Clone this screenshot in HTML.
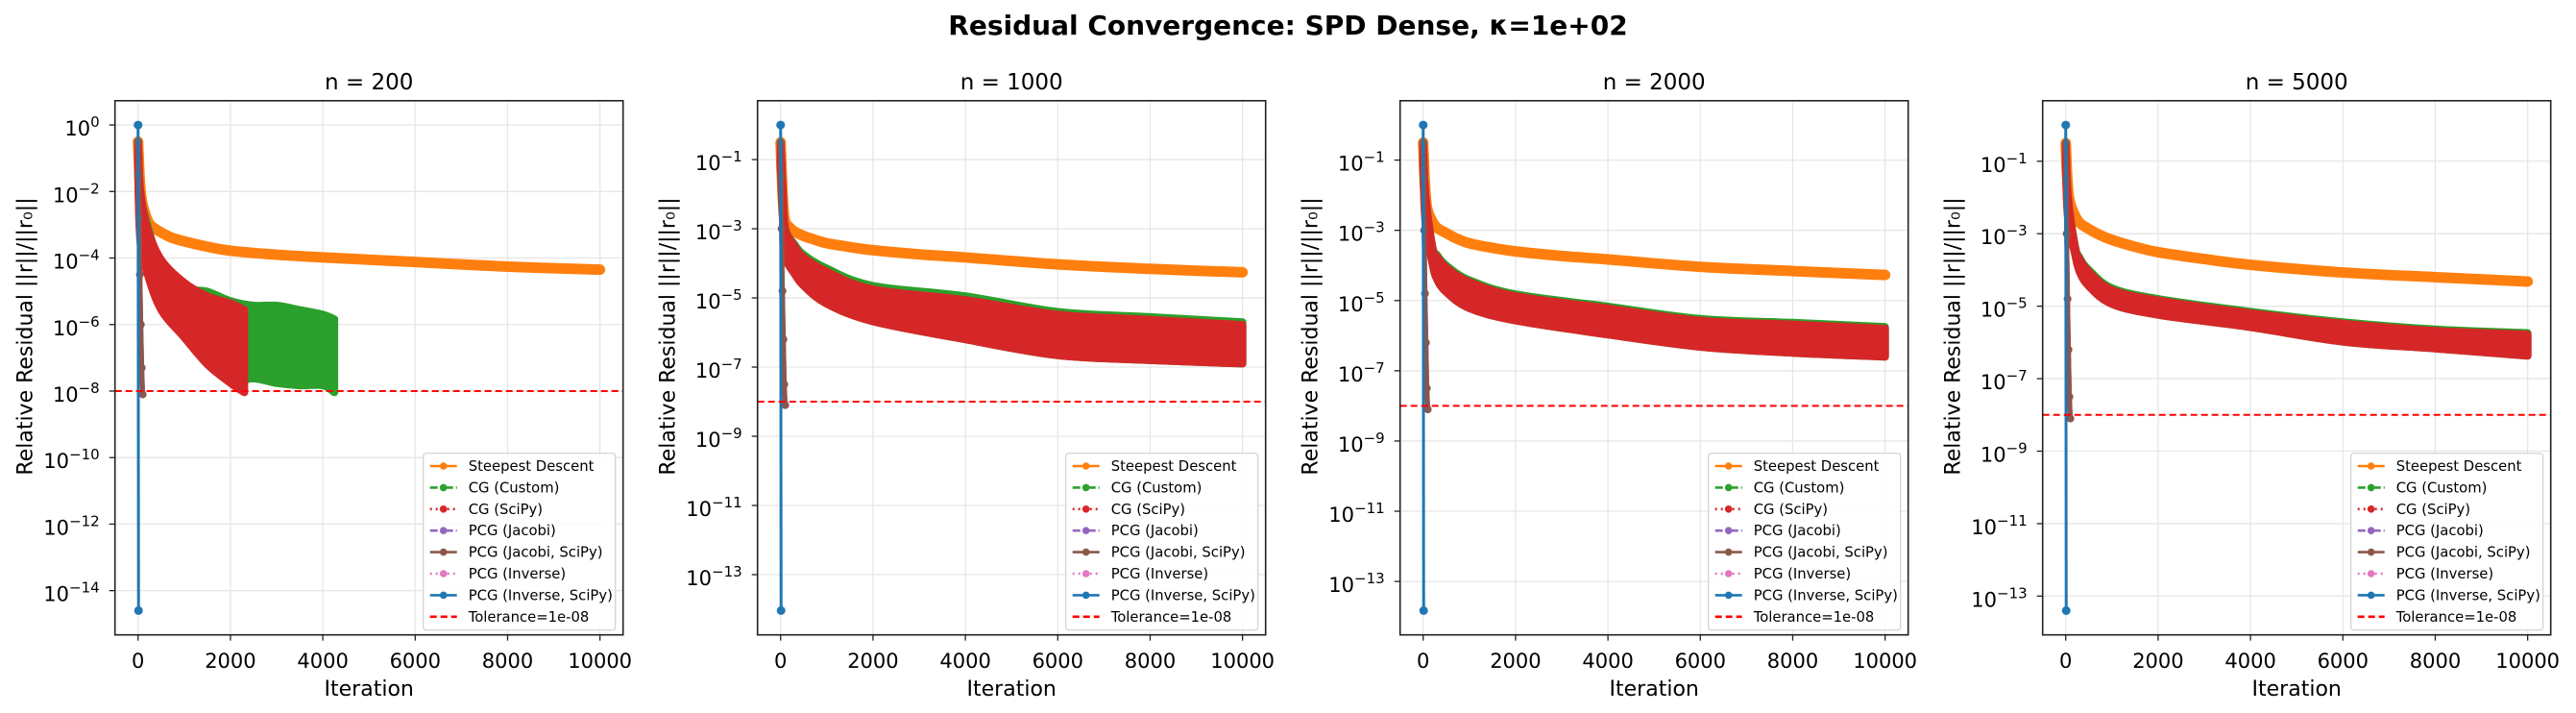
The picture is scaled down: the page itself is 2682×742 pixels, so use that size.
<!DOCTYPE html>
<html><head><meta charset="utf-8"><style>
body{margin:0;background:#fff;}
svg{display:block;font-family:"DejaVu Sans","Liberation Sans",sans-serif;}
</style></head><body>
<svg id="fig" width="2682" height="742" viewBox="0 0 2682 742" xmlns="http://www.w3.org/2000/svg">
<rect width="2682" height="742" fill="#fff"/>
<text x="1341" y="36" text-anchor="middle" font-size="28" font-weight="bold">Residual Convergence: SPD Dense, κ=1e+02</text>
</svg>
<script>
// ---- data ----
const panelTitles = ["n = 200", "n = 1000", "n = 2000", "n = 5000"];
const xTicks = [0, 2000, 4000, 6000, 8000, 10000];
const yTickExps = [[0,-2,-4,-6,-8,-10,-12,-14],[-1,-3,-5,-7,-9,-11,-13],[-1,-3,-5,-7,-9,-11,-13],[-1,-3,-5,-7,-9,-11,-13]];
const dataMinLog = [-14.6, -14.04, -13.83, -13.4];
const dataMaxLog = 0;
const tolLog = -8;
const sdIters = [0,30,60,100,200,300,500,700,1000,1500,2000,3000,4000,6000,8000,10000];
const sdLog = [
  [-0.5,-1.5,-2.05,-2.4,-2.85,-3.05,-3.23,-3.37,-3.5,-3.66,-3.78,-3.9,-3.98,-4.12,-4.26,-4.35],
  [-0.5,-1.6,-2.4,-2.8,-2.97,-3.08,-3.21,-3.3,-3.42,-3.53,-3.62,-3.74,-3.83,-4.03,-4.16,-4.26],
  [-0.5,-1.5,-2.1,-2.45,-2.75,-2.93,-3.08,-3.22,-3.37,-3.5,-3.6,-3.73,-3.83,-4.04,-4.16,-4.27],
  [-0.5,-1.4,-1.9,-2.18,-2.5,-2.7,-2.87,-3.01,-3.17,-3.36,-3.51,-3.7,-3.86,-4.07,-4.2,-4.32]
];
const cgIters = [
  [0,50,200,500,1000,1500,2000,2300],
  [0,50,100,300,500,1000,2000,4000,6000,8000,10000],
  [0,50,200,300,500,1000,2000,4000,6000,8000,10000],
  [0,50,200,300,500,1000,2000,4000,6000,8000,10000]
];
const cgSciUpper = [
  [-0.5,-2,-3.09,-4.05,-4.74,-5.15,-5.36,-5.56],
  [-0.5,-2,-3.0,-3.5,-3.83,-4.24,-4.75,-5.06,-5.48,-5.63,-5.78],
  [-0.5,-2,-3.49,-3.75,-4.06,-4.47,-4.87,-5.22,-5.57,-5.68,-5.8],
  [-0.5,-2,-3.36,-3.7,-4.05,-4.55,-4.84,-5.19,-5.48,-5.68,-5.78]
];
const cgSciLower = [
  [-1.5,-3.5,-4.46,-5.56,-6.39,-7.2,-7.76,-8.04],
  [-1.2,-2.8,-3.8,-4.3,-4.65,-5.17,-5.68,-6.2,-6.66,-6.8,-6.9],
  [-1.2,-2.8,-3.95,-4.4,-4.76,-5.22,-5.57,-5.97,-6.32,-6.49,-6.6],
  [-1.2,-2.6,-3.56,-4.05,-4.45,-4.94,-5.24,-5.58,-5.98,-6.17,-6.37]
];
const cgCustIters = [
  [0,50,200,500,1000,1500,2000,2500,3000,3500,4000,4250],
  [0,50,100,300,500,1000,2000,4000,6000,8000,10000],
  [0,50,200,300,500,1000,2000,4000,6000,8000,10000],
  [0,50,200,300,500,1000,2000,4000,6000,8000,10000]
];
const cgCustUpper = [
  [-0.5,-2,-3.0,-4.19,-4.88,-5.01,-5.29,-5.43,-5.43,-5.56,-5.7,-5.84],
  [-0.5,-2,-3.0,-3.45,-3.75,-4.15,-4.65,-4.95,-5.4,-5.55,-5.7],
  [-0.5,-2,-3.45,-3.7,-4.0,-4.42,-4.82,-5.17,-5.52,-5.63,-5.75],
  [-0.5,-2,-3.32,-3.66,-4.0,-4.5,-4.8,-5.15,-5.44,-5.64,-5.74]
];
const cgCustLower = [
  [-1.5,-3.5,-4.4,-5.5,-6.3,-7.1,-7.7,-7.62,-7.76,-7.83,-7.83,-8.04],
  [-1.2,-2.8,-3.8,-4.3,-4.65,-5.17,-5.68,-6.2,-6.66,-6.8,-6.9],
  [-1.2,-2.8,-3.95,-4.4,-4.76,-5.22,-5.57,-5.97,-6.32,-6.49,-6.6],
  [-1.2,-2.6,-3.56,-4.05,-4.45,-4.94,-5.24,-5.58,-5.98,-6.17,-6.37]
];
const jacIters = [0, 10, 20, 40, 60, 80, 100];
const jacLog = [
  [-0.5,-1.5,-2.8,-4.5,-6.0,-7.3,-8.1],
  [-0.5,-1.5,-3.0,-4.8,-6.2,-7.5,-8.1],
  [-0.5,-1.5,-3.0,-4.8,-6.2,-7.5,-8.1],
  [-0.5,-1.5,-3.0,-4.8,-6.2,-7.5,-8.1]
];
const invIters = [0, 10];
const legendLabels = ["Steepest Descent","CG (Custom)","CG (SciPy)","PCG (Jacobi)","PCG (Jacobi, SciPy)","PCG (Inverse)","PCG (Inverse, SciPy)","Tolerance=1e-08"];

// ---- drawing ----
const NS = "http://www.w3.org/2000/svg";
const svg = document.getElementById("fig");
function mk(tag, attrs, parent) {
  const e = document.createElementNS(NS, tag);
  for (const k in attrs) e.setAttribute(k, attrs[k]);
  (parent || svg).appendChild(e);
  return e;
}
// Catmull-Rom smooth path through pixel points
function smooth(pts, start) {
  let d = start ? "M" + pts[0][0] + "," + pts[0][1] : "L" + pts[0][0] + "," + pts[0][1];
  for (let i = 0; i < pts.length - 1; i++) {
    const p0 = pts[Math.max(i - 1, 0)], p1 = pts[i], p2 = pts[i + 1], p3 = pts[Math.min(i + 2, pts.length - 1)];
    const c1x = p1[0] + (p2[0] - p0[0]) / 6, c1y = p1[1] + (p2[1] - p0[1]) / 6;
    const c2x = p2[0] - (p3[0] - p1[0]) / 6, c2y = p2[1] - (p3[1] - p1[1]) / 6;
    d += " C" + c1x + "," + c1y + " " + c2x + "," + c2y + " " + p2[0] + "," + p2[1];
  }
  return d;
}
const C = {sd:"#ff7f0e", cg:"#2ca02c", cgs:"#d62728", jac:"#9467bd", jacs:"#8c564b", inv:"#e377c2", invs:"#1f77b4", tol:"#ff0000"};
const legendColors = [C.sd, C.cg, C.cgs, C.jac, C.jacs, C.inv, C.invs, C.tol];
const legendDash = ["", "8,3,2,3", "2,4", "8,3,2,3", "", "2,4", "", "7,4"];

for (let p = 0; p < 4; p++) {
  const L = 119.7 + 669 * p, W = 529, T = 104.8, B = 660.7, H = B - T, R = L + W;
  const span = dataMaxLog - dataMinLog[p];
  const yMax = dataMaxLog + 0.05 * span, yMin = dataMinLog[p] - 0.05 * span;
  const xs = v => L + (v + 500) / 11000 * W;
  const ys = v => T + (yMax - v) / (yMax - yMin) * H;
  const g = mk("g", {});
  
  
  const clipId = "clip" + p;
  const cp = mk("clipPath", {id: clipId}, g);
  mk("rect", {x: L, y: T, width: W, height: H}, cp);
  xTicks.forEach(t => {
    const l = mk("line", {x1: xs(t), x2: xs(t), y1: T, y2: B, stroke: "#e6e6e6", "stroke-width": 1.3}, g);
    
    
  });
  yTickExps[p].forEach(e => {
    const l = mk("line", {x1: L, x2: R, y1: ys(e), y2: ys(e), stroke: "#e6e6e6", "stroke-width": 1.3}, g);
    
    
  });
  const plot = mk("g", {"clip-path": "url(#" + clipId + ")"}, g);
  const sdP = sdIters.map((it, i) => [xs(it), ys(sdLog[p][i])]);
  const sd = mk("path", {d: smooth(sdP, true), fill: "none", stroke: C.sd, "stroke-width": 11, "stroke-linejoin": "round", "stroke-linecap": "round"}, plot);
  
  
  function band(iters, up, lo, color, name) {
    const u = iters.map((it, i) => [xs(it), ys(up[i])]);
    const l = iters.map((it, i) => [xs(it), ys(lo[i])]).reverse();
    const d = smooth(u, true) + " " + smooth(l, false) + " Z";
    const pg = mk("path", {d: d, fill: color, stroke: color, "stroke-width": 8, "stroke-linejoin": "round"}, plot);
    
    
  }
  band(cgCustIters[p], cgCustUpper[p], cgCustLower[p], C.cg, 'cg-custom-series');
  band(cgIters[p], cgSciUpper[p], cgSciLower[p], C.cgs, 'cg-scipy-series');
  [[C.jac, 'pcg-jacobi-series'], [C.jacs, 'pcg-jacobi-scipy-series']].forEach(([col, nm]) => {
    const pts = jacIters.map((it, i) => xs(it) + "," + ys(jacLog[p][i])).join(" ");
    const pl = mk("polyline", {points: pts, fill: "none", stroke: col, "stroke-width": 5, "stroke-linejoin": "round"}, plot);
    
    
    jacIters.forEach((it, i) => {
      const c = mk("circle", {cx: xs(it), cy: ys(jacLog[p][i]), r: 4, fill: col}, plot);
      
      
    });
  });
  const invLog = [dataMaxLog, dataMinLog[p]];
  const il = mk("line", {x1: xs(invIters[0]), y1: ys(invLog[0]), x2: xs(invIters[1]), y2: ys(invLog[1]), stroke: C.invs, "stroke-width": 3}, plot);
  
  
  invIters.forEach((it, i) => {
    const c = mk("circle", {cx: xs(it), cy: ys(invLog[i]), r: 4.5, fill: C.invs}, plot);
    
    
  });
  const tl = mk("line", {x1: L, x2: R, y1: ys(tolLog), y2: ys(tolLog), stroke: C.tol, "stroke-width": 2, "stroke-dasharray": "7,4"}, plot);
  
  
  const fr = mk("rect", {x: L, y: T, width: W, height: H, fill: "none", stroke: "#222", "stroke-width": 1.6}, g);
  
  
  xTicks.forEach(t => {
    mk("line", {x1: xs(t), x2: xs(t), y1: B, y2: B + 6, stroke: "#222", "stroke-width": 1.3}, g);
    const tx = mk("text", {x: xs(t), y: 695, "text-anchor": "middle", "font-size": 21}, g);
    tx.textContent = t;
    
    
  });
  yTickExps[p].forEach(e => {
    const y = ys(e);
    mk("line", {x1: L - 6, x2: L, y1: y, y2: y, stroke: "#222", "stroke-width": 1.3}, g);
    const tx = mk("text", {x: L - 16, y: y + 11, "text-anchor": "end", "font-size": 21}, g);
    
    
    const a = mk("tspan", {}, tx); a.textContent = "10";
    const b = mk("tspan", {dy: -9, "font-size": 15}, tx); b.textContent = (e === 0 ? "0" : "\u2212" + Math.abs(e));
  });
  const ti = mk("text", {x: L + W / 2, y: 93, "text-anchor": "middle", "font-size": 23}, g);
  ti.textContent = panelTitles[p];
  
  
  const xl = mk("text", {x: L + W / 2, y: 724, "text-anchor": "middle", "font-size": 22}, g);
  xl.textContent = "Iteration";
  
  
  const yl = mk("text", {x: 0, y: 0, "text-anchor": "middle", "font-size": 22, transform: "translate(" + (L - 86) + ",350) rotate(-90)"}, g);
  yl.textContent = "Relative Residual ||r||/||r\u2080||";
  
  
  const lx = R - 8 - 200, ly = B - 5 - 184;
  const lg = mk("g", {}, g);
  
  
  mk("rect", {x: lx, y: ly, width: 200, height: 184, rx: 3, fill: "#fff", "fill-opacity": 0.85, stroke: "#d0d0d0", "stroke-width": 1.2}, lg);
  legendLabels.forEach((lab, i) => {
    const cy = ly + 13.3 + 22.4 * i;
    const e = mk("g", {}, lg);
    
    
    const att = {x1: lx + 7, x2: lx + 35, y1: cy, y2: cy, stroke: legendColors[i], "stroke-width": 2.6};
    if (legendDash[i]) att["stroke-dasharray"] = legendDash[i];
    mk("line", att, e);
    if (i < 7) mk("circle", {cx: lx + 21, cy: cy, r: 3.8, fill: legendColors[i]}, e);
    const t = mk("text", {x: lx + 47, y: cy + 5, "font-size": 14.8}, e);
    t.textContent = lab;
  });
}
</script>
</body></html>
